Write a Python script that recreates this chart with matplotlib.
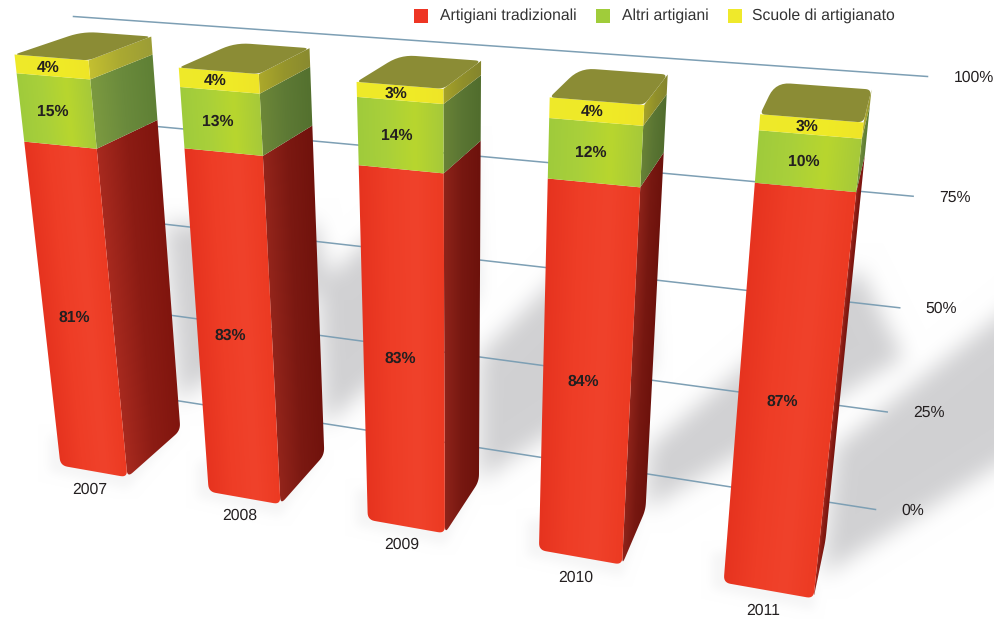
import matplotlib
matplotlib.use("Agg")
import matplotlib.pyplot as plt
import numpy as np
from matplotlib.colors import to_rgb
from matplotlib.patches import Polygon, Rectangle
from matplotlib.path import Path

plt.rcParams['font.family'] = ['Liberation Sans', 'DejaVu Sans']
plt.rcParams['text.hinting'] = 'no_hinting'

# data
years = ["2007", "2008", "2009", "2010", "2011"]
tradizionali = [81, 83, 83, 84, 87]
altri = [15, 13, 14, 12, 10]
scuole = [4, 4, 3, 4, 3]
series_names = ["Artigiani tradizionali", "Altri artigiani", "Scuole di artigianato"]
grid_values = [0, 25, 50, 75, 100]

# fake 3d: bars stand on a (u, v) floor, u = year index, v = depth.
# corners of the floor and of the 100% level on the page, in pixels:
# front-left, front-right, back-left, back-right
BAR_W = 0.46
PERSP = 0.872
FLOOR_U = 0.848
ROOF_U = 0.83
floor_pins = [(60, 465), (813, 598), (117, 419), (825, 540)]
roof_pins = [(14, 54), (863, 122), (82, 31), (871, 89)]

year_offset = [(-4, 18), (-5, 18), (-5, 18.5), (-5, 20), (-5, 20)]
side_dark = [1.0, 0.88, 0.85, 0.85, 0.95]

# cast shadows: where they leave the side edge (as a chart value) and their shift on the page
shadow_base = [8, 8, 0, 0, -9]
shadow_head = [56, 45, 33, 16, 23]
shadow_low = [(150, -125), (150, -130), (170, -114), (258, -152), (300, -188)]
shadow_up = [(150, 0), (150, -135), (160, -160), (210, -180), (300, -240)]
SHADOW = "#d1d1d3"

front_red = ["#e6331f", "#ee3d26", "#f0422b", "#ec3a22"]
front_green = ["#9fcb3c", "#a9d03a", "#b8d62e", "#a6c93a"]
front_yellow = ["#eee92a", "#efea28", "#f0ea26", "#eee528"]
side_red = ["#a82a1f", "#8c1c14", "#80150e"]
side_green = ["#7c9a40", "#6a8a3c", "#5f8035"]
side_yellow = ["#c4c030", "#aaa932", "#9c9d36"]
TOP = "#8b8c35"
GRID = "#7d9fb4"
TEXT = "#231f20"


def warp(t, w=PERSP):
    return t * w / (t * w + 1 - t)


def project(pins, u, v, w):
    s = warp(u / (len(years) - 1 + BAR_W), w)
    fl, fr, bl, br = [np.array(p, float) for p in pins]
    return (fl + (fr - fl) * s) * (1 - v) + (bl + (br - bl) * s) * v


def lift(a, b, value):
    # point at value (0-100) on the vertical between floor a and roof b
    return a + (b - a) * warp(value / 100)


def round_corners(pts, radii):
    out = []
    n = len(pts)
    for i in range(n):
        p, prev, nxt = pts[i], pts[i - 1], pts[(i + 1) % n]
        r = radii[i]
        if r == 0:
            out.append(p)
            continue
        a = p + (prev - p) / np.linalg.norm(prev - p) * r
        b = p + (nxt - p) / np.linalg.norm(nxt - p) * r
        for s in np.linspace(0, 1, 8):
            out.append((1 - s) ** 2 * a + 2 * s * (1 - s) * p + s ** 2 * b)
    return np.array(out)


def line_x(a, b, y):
    return a[0] + (b[0] - a[0]) * (y - a[1]) / (b[1] - a[1])


def shade(ax, pts, edge_l, edge_r, stops, dark=1.0, z=3):
    # gradient across the face, running between its two slanted edges
    x0, y0 = np.floor(pts.min(axis=0)) - 1
    x1, y1 = np.ceil(pts.max(axis=0)) + 1
    xs, ys = np.meshgrid(np.arange(x0, x1 + 1), np.arange(y0, y1 + 1))
    xl = line_x(edge_l[0], edge_l[1], ys)
    xr = line_x(edge_r[0], edge_r[1], ys)
    s = np.clip((xs - xl) / (xr - xl), 0, 1)
    cols = np.array([to_rgb(c) for c in stops]) * dark
    pos = np.linspace(0, 1, len(stops))
    img = np.dstack([np.interp(s, pos, cols[:, k]) for k in range(3)])
    patch = Polygon(pts, closed=True, fc='none', ec='none', zorder=z)
    ax.add_patch(patch)
    im = ax.imshow(img, extent=(x0 - 0.5, x1 + 0.5, y1 + 0.5, y0 - 0.5), aspect='auto',
                   interpolation='bilinear', zorder=z)
    im.set_clip_path(patch)


def box_blur(a, size):
    kernel = np.ones(size) / size
    for axis in (0, 1):
        a = np.apply_along_axis(lambda m: np.convolve(m, kernel, mode='same'), axis, a)
    return a


def raster(poly):
    return Path(poly).contains_points(grid_pts).reshape(xx.shape).astype(float)


fig, ax = plt.subplots(figsize=(9.95, 6.19), dpi=100)
ax.set_position([0, 0, 1, 1])
ax.axis('off')

# shadows
W, Hh = 1195, 819  # page plus margin so that the blur does not stop at the edge
xx, yy = np.meshgrid(np.arange(W) - 100, np.arange(Hh) - 100)
grid_pts = np.column_stack([xx.ravel(), yy.ravel()])
mask = np.zeros(xx.shape)
halo = np.zeros(xx.shape)
for i in range(len(years)):
    br = project(floor_pins, i + BAR_W, 1, FLOOR_U)
    tr = project(roof_pins, i + BAR_W, 1, ROOF_U)
    bl = project(floor_pins, i, 0, FLOOR_U)
    bm = project(floor_pins, i + BAR_W, 0, FLOOR_U)
    start_low = lift(br, tr, shadow_base[i])
    start_up = lift(br, tr, shadow_head[i])
    poly = [start_low, start_low + shadow_low[i], start_up + shadow_up[i], start_up]
    mask = np.maximum(mask, raster(poly))
    # faint contact glow round the foot of the bar
    halo = np.maximum(halo, raster([bl + (-12, -30), bl + (-12, 6), bm + (0, 12), br + (0, 0)]))
for _ in range(2):
    mask = box_blur(mask, 25)
    halo = box_blur(halo, 11)
mask = np.maximum(mask, halo * 0.2)[100:719, 100:1095]
rgb = np.array(to_rgb(SHADOW))
shadow_img = 1 - mask[..., None] * (1 - rgb)
ax.imshow(shadow_img, extent=(-0.5, 994.5, 618.5, -0.5), aspect='auto', zorder=0)

# gridlines, 0% and 100% are pinned and the rest follows the same warp
grid_low = (np.array([105.0, 389.0]), np.array([875.0, 509.0]))
grid_high = (np.array([73.0, 16.0]), np.array([927.0, 76.0]))
for value in grid_values:
    left = lift(grid_low[0], grid_high[0], value)
    right = lift(grid_low[1], grid_high[1], value)
    ax.plot([left[0], right[0]], [left[1], right[1]], color=GRID, lw=1.1, zorder=1)
    ax.text(right[0] + 26, right[1] + 1, f"{value}%", fontsize=11.3, color=TEXT, ha='left', va='center')

# bars
for i, year in enumerate(years):
    bl = project(floor_pins, i, 0, FLOOR_U)
    bm = project(floor_pins, i + BAR_W, 0, FLOOR_U)
    br = project(floor_pins, i + BAR_W, 1, FLOOR_U)
    tl = project(roof_pins, i, 0, ROOF_U)
    tm = project(roof_pins, i + BAR_W, 0, ROOF_U)
    tr = project(roof_pins, i + BAR_W, 1, ROOF_U)
    tb = project(roof_pins, i, 1, ROOF_U)

    levels = [0, tradizionali[i], tradizionali[i] + altri[i], 100]
    values = [tradizionali[i], altri[i], scuole[i]]
    fronts = [front_red, front_green, front_yellow]
    sides = [side_red, side_green, side_yellow]

    for k in range(3):
        lo, hi = levels[k], levels[k + 1]
        face = np.array([lift(bl, tl, lo), lift(bm, tm, lo), lift(bm, tm, hi), lift(bl, tl, hi)])
        side = np.array([lift(bm, tm, lo), lift(br, tr, lo), lift(br, tr, hi), lift(bm, tm, hi)])
        if k == 0:
            face = round_corners(face, [7, 7, 0, 0])
            side = round_corners(side, [7, 7, 0, 0])
        shade(ax, side, (bm, tm), (br, tr), sides[k], side_dark[i], z=3)
        shade(ax, face, (bl, tl), (bm, tm), fronts[k], z=4)

        mid = (lo + hi) / 2
        pos = lift(bl, tl, mid) * 0.5 + lift(bm, tm, mid) * 0.5
        ax.text(pos[0] - 4, pos[1] + 0.5, f"{values[k]}%", fontsize=11.3, fontweight='bold',
                color=TEXT, ha='center', va='center', zorder=6)

    top = round_corners(np.array([tl, tm, tr, tb]), [5, 6, 6, 15])
    ax.add_patch(Polygon(top, closed=True, fc=TOP, ec='none', zorder=5))

    label = (bl + bm) / 2 + np.array(year_offset[i])
    ax.text(label[0], label[1], year, fontsize=11.3, color=TEXT, ha='center', va='center', zorder=6)

# legend
legend_x = [413, 595, 727]
legend_txt = [439, 621, 752]
legend_col = ["#ee3524", "#a0cc3a", "#efe92b"]
for x, tx, col, name in zip(legend_x, legend_txt, legend_col, series_names):
    ax.add_patch(Rectangle((x, 8), 14, 14, fc=col, ec='none', zorder=6))
    ax.text(tx, 15.5, name, fontsize=11.3, color="#333333", ha='left', va='center', zorder=6)

ax.set_xlim(-0.5, 994.5)
ax.set_ylim(618.5, -0.5)
fig.savefig("out.png", dpi=100)
